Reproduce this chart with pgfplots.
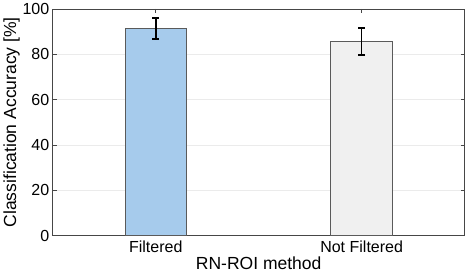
\documentclass[border=0pt]{standalone}
\usepackage{pgfplots}
\pgfplotsset{compat=1.18}
\usepackage{fontspec}
\setmainfont{Liberation Sans}
\definecolor{fblue}{RGB}{166,203,236}
\definecolor{nfgray}{RGB}{240,240,240}
\definecolor{axgray}{RGB}{70,70,70}
\definecolor{edgegray}{RGB}{90,90,90}
\begin{document}
\begin{tikzpicture}
\begin{axis}[
  scale only axis, width=410bp, height=225.6bp,
  xmin=0.5, xmax=2.5, ymin=0, ymax=100,
  xtick={1,2}, xticklabels={Filtered, Not Filtered},
  ytick={0,20,...,100},
  ymajorgrids, grid style={draw=black!8, line width=0.8bp},
  axis line style={draw=axgray, line width=0.6bp},
  tick style={draw=axgray, line width=0.5bp},
  major tick length=4bp,
  tick align=inside,
  font=\fontsize{16}{19}\selectfont,
  tick label style={font=\fontsize{16}{19}\selectfont},
  label style={font=\fontsize{17.5}{20}\selectfont},
  xticklabel style={yshift=-2bp},
  xlabel={RN-ROI method}, ylabel={Classification Accuracy [\%]},
  /pgf/number format/assume math mode=true,
  xlabel style={yshift=3bp},
  ylabel style={yshift=-4bp},
]
\addplot[ybar, bar width=0.3, bar shift=0pt, fill=fblue, draw=edgegray, line width=0.6bp,
  error bars/.cd, y dir=both, y explicit,
  error bar style={black, line width=1.6bp},
  error mark options={black, line width=1.4bp, mark size=3.5bp, rotate=90}]
  coordinates {(1,91.35) +- (0,4.65)};
\addplot[ybar, bar width=0.3, bar shift=0pt, fill=nfgray, draw=edgegray, line width=0.6bp,
  error bars/.cd, y dir=both, y explicit,
  error bar style={black, line width=1.6bp},
  error mark options={black, line width=1.4bp, mark size=3.5bp, rotate=90}]
  coordinates {(2,85.65) +- (0,5.95)};
\end{axis}
\end{tikzpicture}
\end{document}
